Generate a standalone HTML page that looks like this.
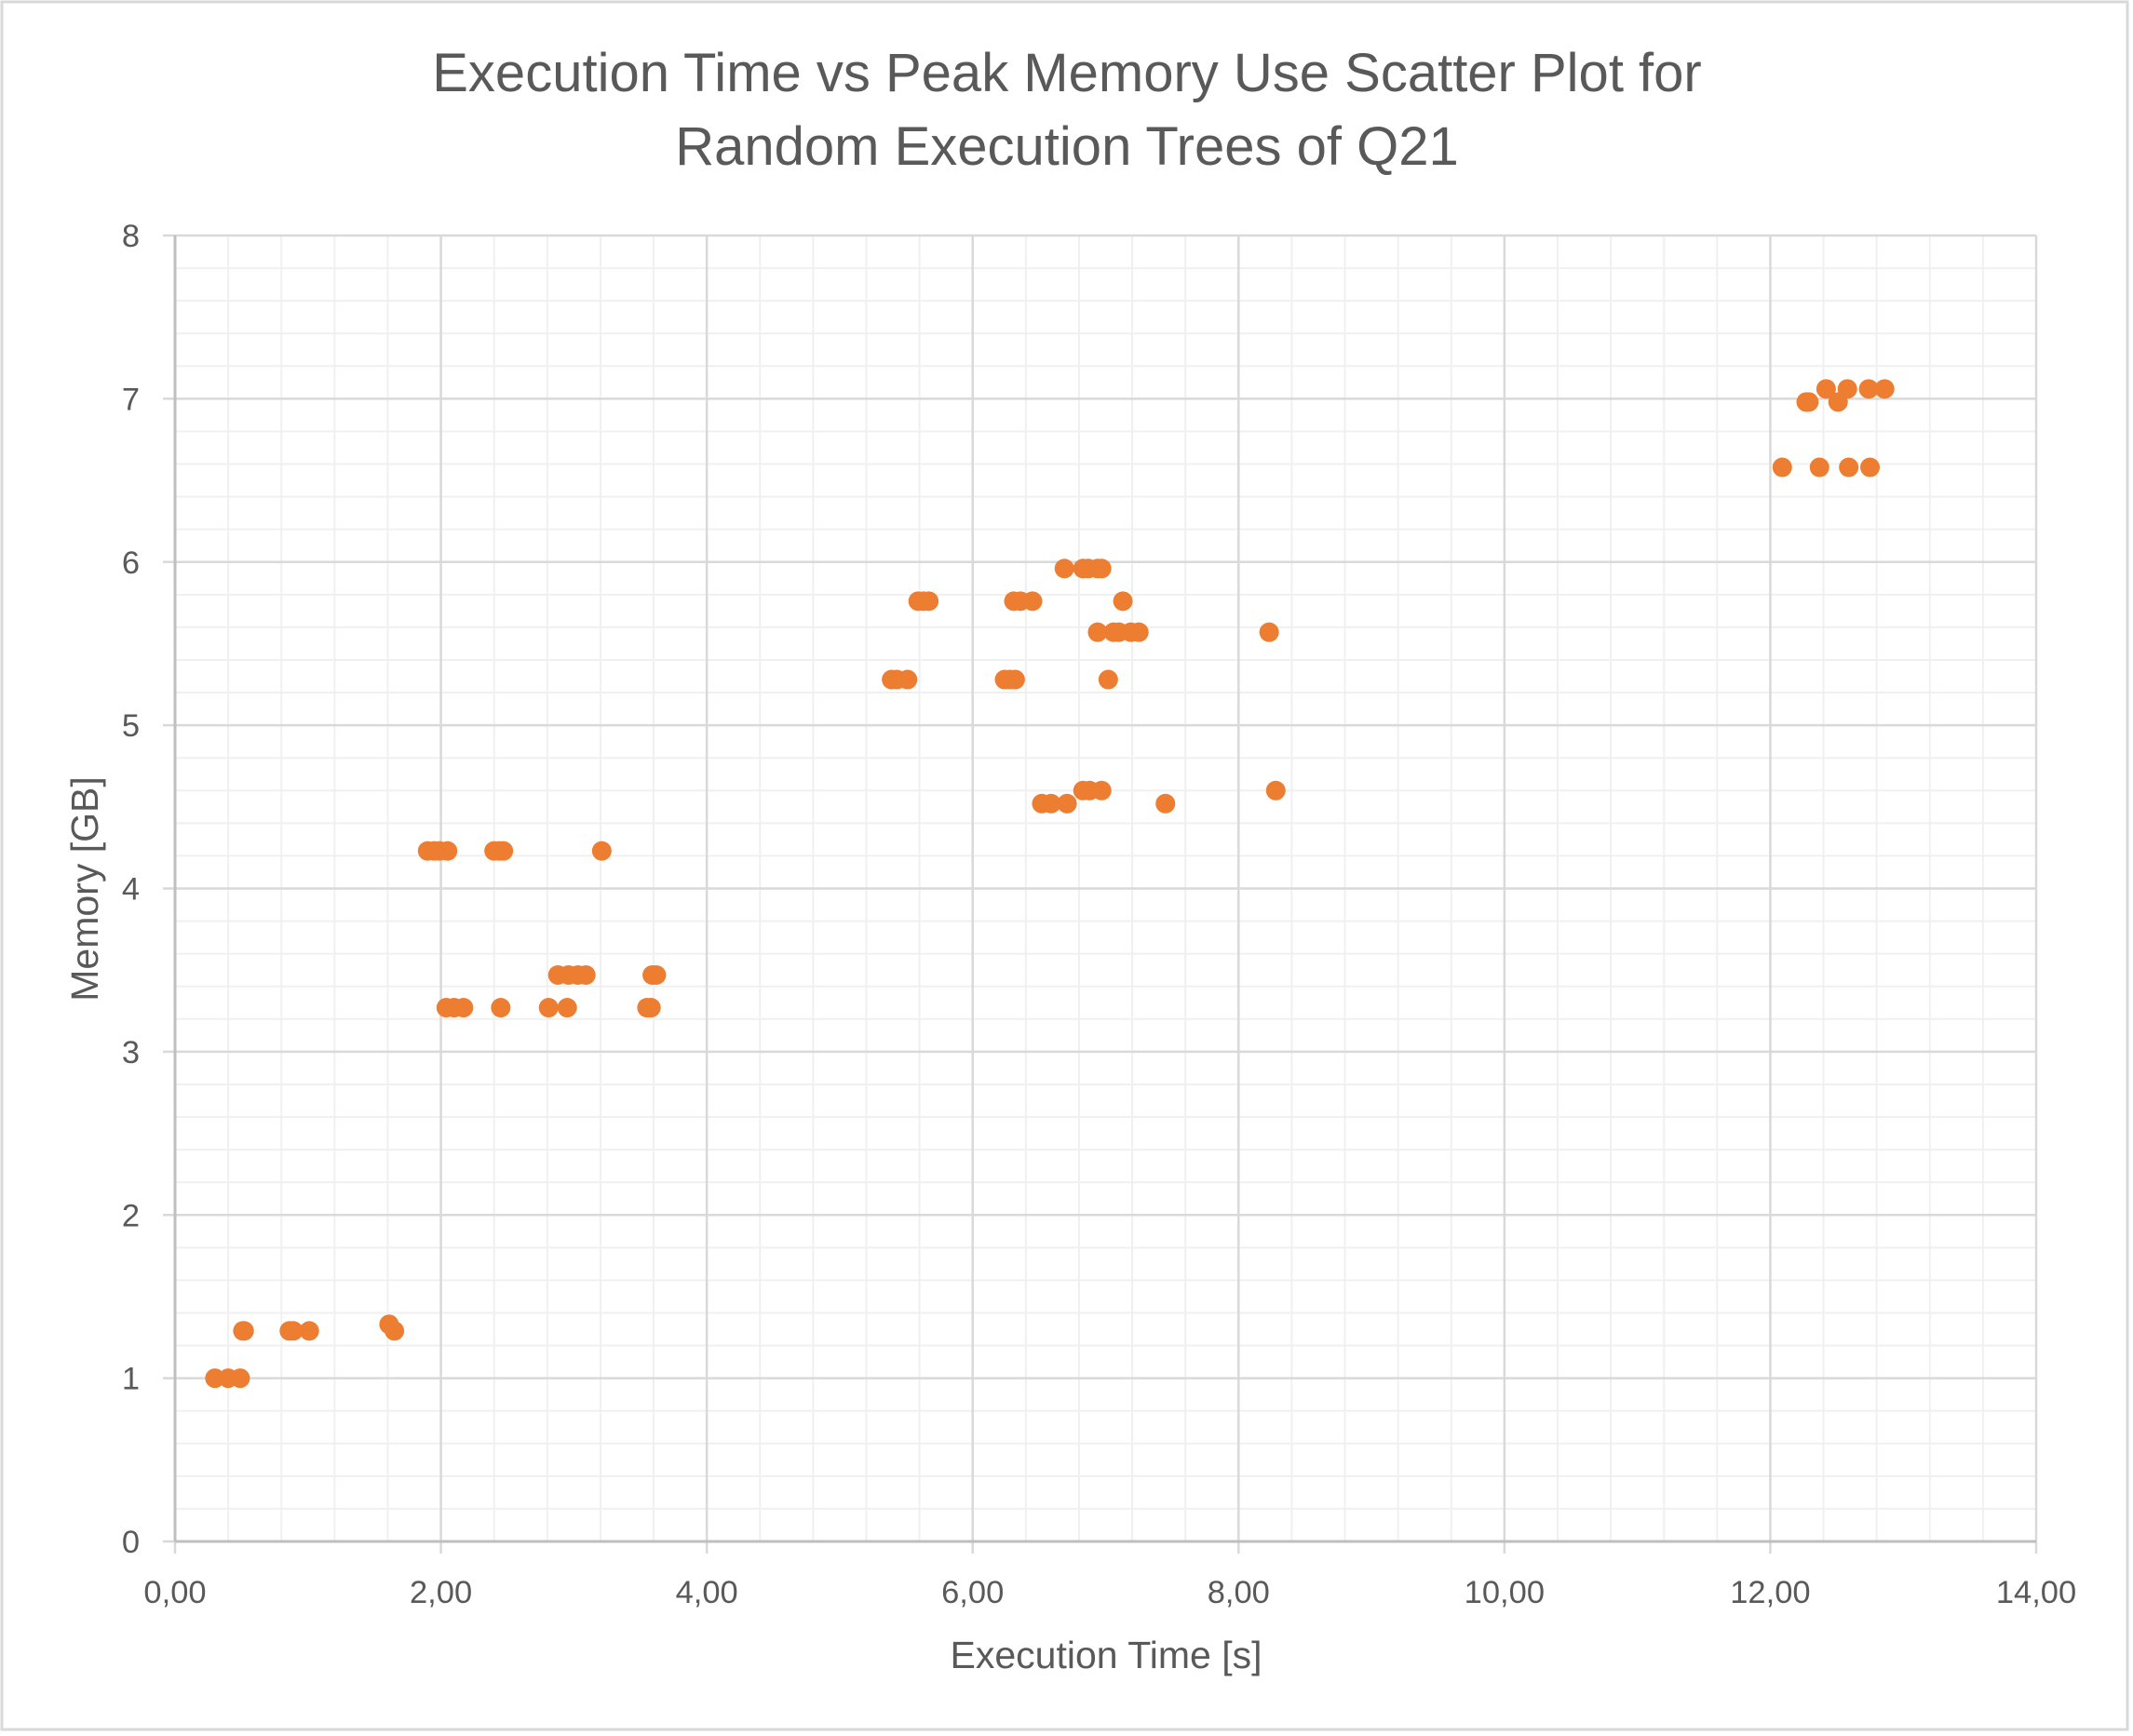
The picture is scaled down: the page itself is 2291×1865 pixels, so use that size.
<!DOCTYPE html>
<html><head><meta charset="utf-8"><style>
body{margin:0;background:#fff}
svg{display:block;font-family:"Liberation Sans",sans-serif}
</style></head><body>
<svg id="chart" width="2291" height="1865" viewBox="0 0 2291 1865">
<rect x="2" y="2" width="2283" height="1856" fill="#fff" stroke="#d9d9d9" stroke-width="3"/>
<text x="1146" y="98" text-anchor="middle" font-size="58" fill="#595959">Execution Time vs Peak Memory Use Scatter Plot for</text>
<text x="1146" y="177" text-anchor="middle" font-size="58" fill="#595959">Random Execution Trees of Q21</text>
<g id="grid"></g>
<g id="axes"></g>
<g id="points"></g>
<text x="1188" y="1792" text-anchor="middle" font-size="41" fill="#595959">Execution Time [s]</text>
<text transform="translate(105,955) rotate(-90)" text-anchor="middle" font-size="41" fill="#595959">Memory [GB]</text>
</svg>
<script>
const xTicks=[0,2,4,6,8,10,12,14];
const yTicks=[0,1,2,3,4,5,6,7,8];
const xLabels=["0,00","2,00","4,00","6,00","8,00","10,00","12,00","14,00"];
const yLabels=["0","1","2","3","4","5","6","7","8"];
const xVals=[0.30,0.40,0.49,0.51,0.52,0.86,0.89,1.01,1.61,1.65,
1.90,1.95,1.99,2.05,2.40,2.44,2.47,3.21,
2.04,2.10,2.17,2.45,2.81,2.95,3.55,3.58,
2.88,2.96,3.03,3.09,3.59,3.62,
5.39,5.43,5.51,6.24,6.28,6.32,7.02,
5.59,5.63,5.67,6.31,6.36,6.45,7.13,
6.69,6.83,6.87,6.94,6.97,
6.94,7.06,7.10,7.19,7.25,8.23,
6.83,6.88,6.97,8.28,
6.52,6.59,6.71,7.45,
12.42,12.58,12.74,12.86,
12.27,12.29,12.51,
12.09,12.37,12.59,12.75];
const yVals=[1.0,1.0,1.0,1.29,1.29,1.29,1.29,1.29,1.33,1.29,
4.23,4.23,4.23,4.23,4.23,4.23,4.23,4.23,
3.27,3.27,3.27,3.27,3.27,3.27,3.27,3.27,
3.47,3.47,3.47,3.47,3.47,3.47,
5.28,5.28,5.28,5.28,5.28,5.28,5.28,
5.76,5.76,5.76,5.76,5.76,5.76,5.76,
5.96,5.96,5.96,5.96,5.96,
5.57,5.57,5.57,5.57,5.57,5.57,
4.60,4.60,4.60,4.60,
4.52,4.52,4.52,4.52,
7.06,7.06,7.06,7.06,
6.98,6.98,6.98,
6.58,6.58,6.58,6.58];
const X0=188,X1=2187,Y0=1656,Y1=253;
const sx=v=>X0+(v-0)/14*(X1-X0);
const sy=v=>Y0-(v-0)/8*(Y0-Y1);
const NS="http://www.w3.org/2000/svg";
function mk(tag,attrs,parent){const e=document.createElementNS(NS,tag);for(const k in attrs)e.setAttribute(k,attrs[k]);parent.appendChild(e);return e;}
const grid=document.getElementById('grid'),axes=document.getElementById('axes'),pts=document.getElementById('points');
for(let i=0;i<=35;i++){const v=i*0.4;if(i%5===0)continue;const l=mk('line',{x1:sx(v),x2:sx(v),y1:Y1,y2:Y0,stroke:'#f0f0f0','stroke-width':2},grid);

}
for(let i=0;i<=40;i++){const v=i*0.2;if(i%5===0)continue;const l=mk('line',{x1:X0,x2:X1,y1:sy(v),y2:sy(v),stroke:'#f0f0f0','stroke-width':2},grid);

}
xTicks.forEach((v,i)=>{const l=mk('line',{x1:sx(v),x2:sx(v),y1:Y1,y2:Y0+13,stroke:'#d9d9d9','stroke-width':2.5},grid);


const t=mk('text',{x:sx(v),y:Y0+66,'text-anchor':'middle','font-size':34.5,fill:'#595959'},axes);t.textContent=xLabels[i];

});
yTicks.forEach((v,i)=>{const l=mk('line',{x1:X0-13,x2:X1,y1:sy(v),y2:sy(v),stroke:'#d9d9d9','stroke-width':2.5},grid);


const t=mk('text',{x:150,y:sy(v)+12,'text-anchor':'end','font-size':34.5,fill:'#595959'},axes);t.textContent=yLabels[i];

});
const ax=mk('line',{x1:X0,x2:X0,y1:Y1,y2:Y0,stroke:'#bfbfbf','stroke-width':3},axes);


const ax2=mk('line',{x1:X0,x2:X1,y1:Y0,y2:Y0,stroke:'#bfbfbf','stroke-width':3},axes);


xVals.forEach((v,i)=>{const c=mk('circle',{cx:sx(v),cy:sy(yVals[i]),r:10.5,fill:'#ed7d31'},pts);

});
</script>
</body></html>
